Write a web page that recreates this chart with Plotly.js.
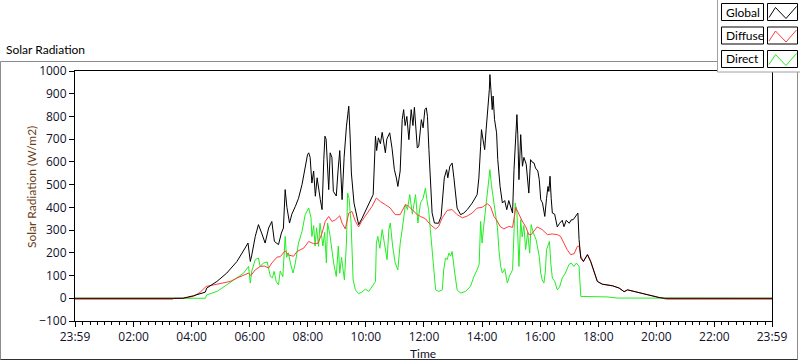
<!DOCTYPE html>
<html>
<head>
<meta charset="utf-8">
<script src="https://cdn.plot.ly/plotly-3.0.1.min.js"></script>
<style>
html,body{margin:0;padding:0;background:#fff;}
#chart{width:800px;height:361px;}
</style>
</head>
<body>
<div id="chart"></div>
<script>
// ---- data (time in decimal hours, 23:59 of previous day = -1/60) ----
const seriesNames = ["Global", "Diffuse", "Direct"];
const seriesColors = ["#000000", "#ff3c3c", "#22ee22"];

const xTickVals = [-1/60, 2, 4, 6, 8, 10, 12, 14, 16, 18, 20, 22, 23 + 59/60];
const xTickText = ["23:59", "02:00", "04:00", "06:00", "08:00", "10:00", "12:00", "14:00", "16:00", "18:00", "20:00", "22:00", "23:59"];

const globalHours = [-0.0167,3.7,4.06,4.3,4.47,4.52,4.87,5.21,5.56,5.84,5.94,6.02,6.07,6.19,6.30,6.41,6.53,6.65,6.76,6.85,6.99,7.09,7.16,7.22,7.28,7.37,7.45,7.57,7.68,7.8,7.91,7.99,8.03,8.08,8.14,8.2,8.26,8.32,8.43,8.49,8.55,8.59,8.63,8.68,8.72,8.77,8.83,8.88,8.98,9.04,9.1,9.18,9.25,9.33,9.41,9.46,9.5,9.59,9.7,9.75,9.86,9.98,10.16,10.25,10.33,10.37,10.43,10.5,10.56,10.62,10.67,10.72,10.82,10.9,10.98,11.05,11.1,11.18,11.25,11.3,11.35,11.41,11.48,11.56,11.62,11.67,11.72,11.77,11.82,11.91,11.97,12.03,12.08,12.12,12.17,12.22,12.28,12.36,12.5,12.59,12.66,12.7,12.78,12.82,12.89,12.97,13.03,13.09,13.14,13.26,13.37,13.49,13.66,13.83,13.89,13.95,13.98,14.03,14.09,14.14,14.2,14.25,14.27,14.3,14.35,14.38,14.43,14.5,14.54,14.62,14.7,14.78,14.85,14.92,14.98,15.05,15.1,15.16,15.2,15.23,15.27,15.33,15.39,15.44,15.52,15.61,15.67,15.72,15.79,15.84,15.92,15.97,16.02,16.08,16.16,16.22,16.27,16.30,16.34,16.38,16.42,16.5,16.59,16.67,16.76,16.82,16.9,17.0,17.07,17.14,17.22,17.30,17.34,17.40,17.49,17.57,17.63,17.74,17.86,17.97,18.14,18.49,18.72,18.89,19.01,19.24,19.53,19.81,20.1,20.3,23.9833];
const globalValues = [0,0,11,22,27,45,74,111,162,221,243,162,190,272,324,287,243,309,338,250,236,287,309,478,400,331,370,404,440,500,581,632,640,620,507,560,449,530,434,390,610,713,700,560,478,640,620,470,450,560,650,434,620,757,845,700,551,419,346,324,350,382,434,456,713,650,706,680,730,680,640,700,728,660,566,529,492,560,786,830,760,800,698,830,760,840,760,661,669,786,750,830,838,800,654,522,375,331,330,360,492,530,566,530,581,595,530,441,397,368,375,390,419,456,529,669,742,700,654,742,830,918,984,918,830,890,786,728,610,492,419,430,390,430,400,375,566,742,808,720,522,720,581,620,590,463,610,600,595,573,560,522,434,420,360,440,492,470,537,440,375,370,314,330,343,315,343,330,345,346,360,375,258,177,162,180,192,162,111,74,62,55,45,29,37,30,20,11,3,0,0];

const diffuseHours = [-0.0167,3.35,3.4,3.7,4.06,4.29,4.5,4.87,5.0,5.33,5.56,5.79,5.96,6.04,6.19,6.36,6.5,6.65,6.76,6.94,7.05,7.22,7.34,7.51,7.63,7.86,8.03,8.2,8.35,8.49,8.60,8.72,8.83,8.95,9.10,9.18,9.29,9.41,9.52,9.64,9.75,9.85,10.04,10.21,10.36,10.5,10.67,10.84,11.01,11.18,11.36,11.47,11.59,11.77,11.88,12.05,12.22,12.4,12.5,12.63,12.8,12.97,13.14,13.32,13.49,13.66,13.83,14.0,14.18,14.29,14.41,14.5,14.62,14.75,14.92,15.05,15.16,15.27,15.38,15.5,15.61,15.69,15.9,16.07,16.25,16.42,16.59,16.7,16.82,16.93,17.05,17.17,17.28,17.34,17.40,17.49,17.57,17.63,17.74,17.86,17.97,18.14,18.49,18.72,18.89,19.01,19.24,19.53,19.81,20.1,20.35,23.9833];
const diffuseValues = [-4,-4,0,0,8,26,52,62,67,74,89,103,111,100,125,140,142,133,155,181,183,209,190,185,206,221,250,240,242,287,338,360,338,345,363,331,305,375,382,338,314,338,375,404,441,425,412,397,368,368,412,405,390,368,360,350,324,305,315,354,387,390,368,354,362,375,397,400,416,404,360,345,316,305,316,312,400,368,340,316,280,280,314,302,280,283,280,273,243,214,192,196,228,230,184,162,180,192,162,111,74,62,55,45,29,37,30,20,11,3,-4,-4];

const directHours = [-0.0167,3.78,4.47,4.52,4.87,5.21,5.56,5.79,5.96,6.02,6.07,6.19,6.30,6.36,6.47,6.6,6.71,6.78,6.84,6.91,6.99,7.05,7.14,7.22,7.27,7.33,7.40,7.49,7.57,7.68,7.8,7.91,8.03,8.11,8.14,8.2,8.25,8.3,8.37,8.42,8.52,8.58,8.64,8.68,8.76,8.82,8.89,8.98,9.05,9.1,9.16,9.26,9.33,9.37,9.42,9.49,9.56,9.64,9.75,9.87,9.98,10.1,10.21,10.33,10.36,10.41,10.48,10.56,10.64,10.73,10.79,10.84,10.92,11.01,11.1,11.18,11.28,11.36,11.43,11.51,11.6,11.71,11.79,11.88,11.97,12.05,12.1,12.16,12.22,12.28,12.34,12.4,12.51,12.63,12.68,12.74,12.8,12.86,12.92,12.97,13.03,13.09,13.14,13.26,13.43,13.6,13.72,13.83,13.9,13.95,14.0,14.05,14.14,14.2,14.27,14.32,14.39,14.47,14.53,14.58,14.64,14.7,14.78,14.87,14.95,15.05,15.1,15.14,15.2,15.24,15.27,15.33,15.38,15.44,15.5,15.57,15.64,15.69,15.76,15.86,15.97,16.02,16.07,16.13,16.18,16.22,16.28,16.32,16.37,16.42,16.5,16.59,16.67,16.76,16.87,16.99,17.07,17.16,17.25,17.34,17.40,18.3,18.66,20.1,20.2,23.9833];
const directValues = [0,0,0,15,30,59,89,111,140,67,120,170,177,140,155,160,96,90,118,74,59,120,95,272,180,200,155,111,155,243,294,368,397,354,272,320,230,310,228,330,230,290,155,331,280,220,155,96,230,110,180,81,243,463,440,331,81,37,20,28,40,30,52,74,243,272,220,302,240,170,302,331,230,155,125,240,331,412,390,456,370,456,331,420,440,485,434,390,302,214,111,37,30,37,125,177,170,199,185,206,140,81,37,23,30,52,96,125,150,338,243,310,419,507,566,500,434,360,310,214,140,111,130,67,100,125,272,419,380,250,140,346,270,320,214,290,199,324,290,258,184,111,81,67,120,214,243,250,150,89,75,37,50,89,111,148,155,140,155,140,8,6,1,1,0,0];

// ---- geometry helpers (pixel -> paper) ----
const W = 800, H = 361;
const M = {l: 75, r: 28, t: 71, b: 40};
const PW = W - M.l - M.r, PH = H - M.t - M.b;
const px = x => (x - M.l) / PW;
const py = y => (H - M.b - y) / PH;

const FONT = "Open Sans, DejaVu Sans, sans-serif";
const TFONT = "Lato, Open Sans, sans-serif";
const TICKCOL = "#10102a";

const traces = [
  {x: directHours, y: directValues, name: seriesNames[2], color: seriesColors[2]},
  {x: diffuseHours, y: diffuseValues, name: seriesNames[1], color: seriesColors[1]},
  {x: globalHours, y: globalValues, name: seriesNames[0], color: seriesColors[0]}
].map(s => ({
  type: "scatter", mode: "lines", x: s.x, y: s.y, name: s.name,
  line: {color: s.color, width: 1}, hoverinfo: "skip", showlegend: false
}));

const shapes = [];
const annotations = [];

// outer frame
shapes.push({type: "rect", xref: "paper", yref: "paper", layer: "below",
  x0: px(0.5), x1: px(797.5), y0: py(61.5), y1: py(359.5),
  line: {color: "#8c8c8c", width: 1}, fillcolor: "rgba(0,0,0,0)"});
shapes.push({type: "line", xref: "paper", yref: "paper", layer: "below",
  x0: px(0.5), x1: px(797.5), y0: py(359.5), y1: py(359.5),
  line: {color: "#303030", width: 1}});

// legend container
shapes.push({type: "rect", xref: "paper", yref: "paper", layer: "above",
  x0: px(717.5), x1: px(801), y0: py(72), y1: py(-1),
  line: {color: "#a0a0a0", width: 1}, fillcolor: "#ffffff"});

const legTops = [3.5, 27, 50.5];
const legH = 17;
seriesNames.forEach((nm, i) => {
  const t = legTops[i], b = t + legH;
  shapes.push({type: "rect", xref: "paper", yref: "paper", layer: "above",
    x0: px(721.5), x1: px(763.5), y0: py(b), y1: py(t),
    line: {color: "#000", width: 1}, fillcolor: "#ffffff"});
  shapes.push({type: "rect", xref: "paper", yref: "paper", layer: "above",
    x0: px(767.5), x1: px(797.5), y0: py(b), y1: py(t),
    line: {color: "#000", width: 1}, fillcolor: "#ffffff"});
  const zx = [769, 775.5, 786, 796.5];
  const zy = [b - 3, t + 4, b - 2, t + 3];
  let path = "M " + zx.map((v, k) => px(v) + "," + py(zy[k])).join(" L ");
  shapes.push({type: "path", xref: "paper", yref: "paper", layer: "above",
    path: path, line: {color: seriesColors[i], width: 1}});
  annotations.push({xref: "paper", yref: "paper", x: px(723.5), y: py(t + legH / 2),
    xanchor: "left", yanchor: "middle", showarrow: false, text: nm,
    font: {family: TFONT, size: 12, color: "#000"}});
});

// chart title
annotations.push({xref: "paper", yref: "paper", x: px(4), y: py(50), xanchor: "left", yanchor: "middle",
  showarrow: false, text: "Solar Radiation", font: {family: TFONT, size: 12, color: "#000"}});
// y-axis title
annotations.push({xref: "paper", yref: "paper", x: px(31), y: py(187), xanchor: "center", yanchor: "middle",
  showarrow: false, textangle: -90, text: "Solar Radiation (W/m2)", font: {family: TFONT, size: 12, color: "#6b3d12"}});
// x-axis title
annotations.push({xref: "paper", yref: "paper", x: px(423), y: py(353), xanchor: "center", yanchor: "middle",
  showarrow: false, text: "Time", font: {family: TFONT, size: 12, color: "#10102a"}});

const layout = {
  width: W, height: H,
  margin: M,
  paper_bgcolor: "#ffffff", plot_bgcolor: "#ffffff",
  showlegend: false,
  xaxis: {
    range: [-1/60, 23 + 59/60], tickmode: "array", tickvals: xTickVals, ticktext: xTickText,
    ticks: "outside", ticklen: 5, tickwidth: 1, tickcolor: "#000",
    showline: true, linecolor: "#000", linewidth: 1, mirror: true,
    showgrid: false, zeroline: false,
    tickfont: {family: FONT, size: 12, color: TICKCOL},
    minor: {ticks: "outside", ticklen: 3, tickcolor: "#000", tick0: 0, dtick: 0.25, showgrid: false}
  },
  yaxis: {
    range: [-100, 1000], tick0: 0, dtick: 100,
    ticks: "outside", ticklen: 5, tickwidth: 1, tickcolor: "#000",
    showline: true, linecolor: "#000", linewidth: 1, mirror: true,
    showgrid: false, zeroline: false,
    tickfont: {family: FONT, size: 12, color: TICKCOL}
  },
  shapes: shapes,
  annotations: annotations
};

Plotly.newPlot("chart", traces, layout, {staticPlot: true, displayModeBar: false});
</script>
</body>
</html>
